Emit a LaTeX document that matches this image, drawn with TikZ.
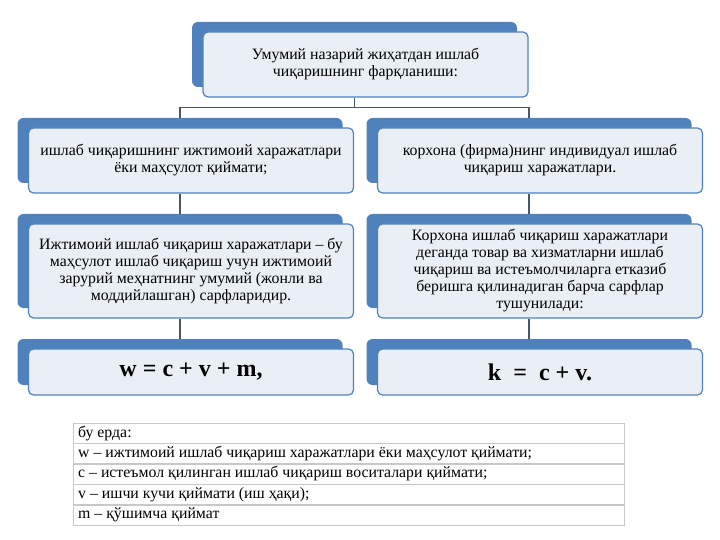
\documentclass[tikz,border=0pt]{standalone}
\usepackage{fontspec}
\setmainfont{Liberation Serif}
\usepackage{tikz}
\usetikzlibrary{positioning}
\definecolor{myblue}{RGB}{79,129,189}
\definecolor{mypale}{RGB}{234,238,245}
\definecolor{myline}{RGB}{72,86,102}
\definecolor{mygrid}{RGB}{200,200,200}
\tikzstyle{card}=[draw=myblue,line width=1.2pt,fill=mypale,rounded corners=5pt,minimum width=325pt,align=center,inner sep=3pt,font=\fontsize{15.8}{17}\selectfont]
\tikzstyle{back}=[fill=myblue,rounded corners=6pt,minimum width=325pt]

\begin{document}
\begin{tikzpicture}[
  x=1pt,y=-1pt,
  link/.style={draw=myline,line width=1.3pt},
  formula/.style={font=\fontsize{24}{26}\selectfont\bfseries},
  legrow/.style={
    draw=mygrid,
    fill=white,
    minimum width=551pt,
    minimum height=20pt,
    inner sep=0pt,
    preaction={fill=black!35,transform canvas={shift={(0.6pt,-1.6pt)}}}
    },
  legtext/.style={anchor=west,inner xsep=5pt,font=\fontsize{15.8}{16}\selectfont}
]
\useasboundingbox (0,0) rectangle (720,540);

\node [back, minimum height=65pt] (rootb) at (354.5,54.5) {};
\node [card, minimum height=65pt] (root) at ([xshift=11pt,yshift=-10pt]rootb.center)
  {Умумий назарий жиҳатдан ишлаб\\чиқаришнинг фарқланиши:};

\node [back, minimum height=65pt] (l1b) at (180,150.5) {};
\node [card, minimum height=65pt] (l1) at ([xshift=11pt,yshift=-10pt]l1b.center)
  {ишлаб чиқаришнинг ижтимоий харажатлари\\ёки маҳсулот қиймати;};
\node [back, minimum height=65pt] (r1b) at (529,150.5) {};
\node [card, minimum height=65pt] (r1) at ([xshift=11pt,yshift=-10pt]r1b.center)
  {корхона (фирма)нинг индивидуал ишлаб\\чиқариш харажатлари.};

\node [back, minimum height=94pt] (l2b) at (180,261) {};
\node [card, minimum height=94pt] (l2) at ([xshift=11pt,yshift=-10pt]l2b.center)
  {Ижтимоий ишлаб чиқариш харажатлари – бу\\маҳсулот ишлаб чиқариш учун ижтимоий\\зарурий меҳнатнинг умумий (жонли ва\\моддийлашган) сарфларидир.};
\node [back, minimum height=94pt] (r2b) at (529,261) {};
\node [card, minimum height=94pt] (r2) at ([xshift=11pt,yshift=-10pt]r2b.center)
  {Корхона ишлаб чиқариш харажатлари\\деганда товар ва хизматларни ишлаб\\чиқариш ва истеъмолчиларга етказиб\\беришга қилинадиган барча сарфлар\\тушунилади:};

\node [back, minimum height=46pt] (l3b) at (180,362) {};
\node [card, formula, minimum height=46pt] (l3) at ([xshift=11pt,yshift=-10pt]l3b.center)
  {w = c + v + m,};
\node [back, minimum height=46pt] (r3b) at (529,362) {};
\node [card, formula, minimum height=46pt] (r3) at ([xshift=11pt,yshift=-10pt]r3b.center)
  {k~~=~~c + v.};

\draw [link] (root.south -| rootb) -- ++(0,10) -| (l1b.north);
\draw [link] (root.south -| rootb) -- ++(0,10) -| (r1b.north);
\draw [link] (l1.south -| l1b) -- (l2b.north);
\draw [link] (r1.south -| r1b) -- (r2b.north);
\draw [link] (l2.south -| l2b) -- (l3b.north);
\draw [link] (r2.south -| r2b) -- (r3b.north);

\node [legrow, anchor=north west] (leg0) at (73,423) {};
\node [legrow, below=0pt of leg0] (leg1) {};
\node [legrow, below=0pt of leg1] (leg2) {};
\node [legrow, below=0pt of leg2] (leg3) {};
\node [legrow, below=0pt of leg3] (leg4) {};
\node [legtext] at (leg0.west) {бу ерда:};
\node [legtext] at (leg1.west) {w – ижтимоий ишлаб чиқариш харажатлари ёки маҳсулот қиймати;};
\node [legtext] at (leg2.west) {c – истеъмол қилинган ишлаб чиқариш воситалари қиймати;};
\node [legtext] at (leg3.west) {v – ишчи кучи қиймати (иш ҳақи);};
\node [legtext] at (leg4.west) {m – қўшимча қиймат};

\end{tikzpicture}
\end{document}
